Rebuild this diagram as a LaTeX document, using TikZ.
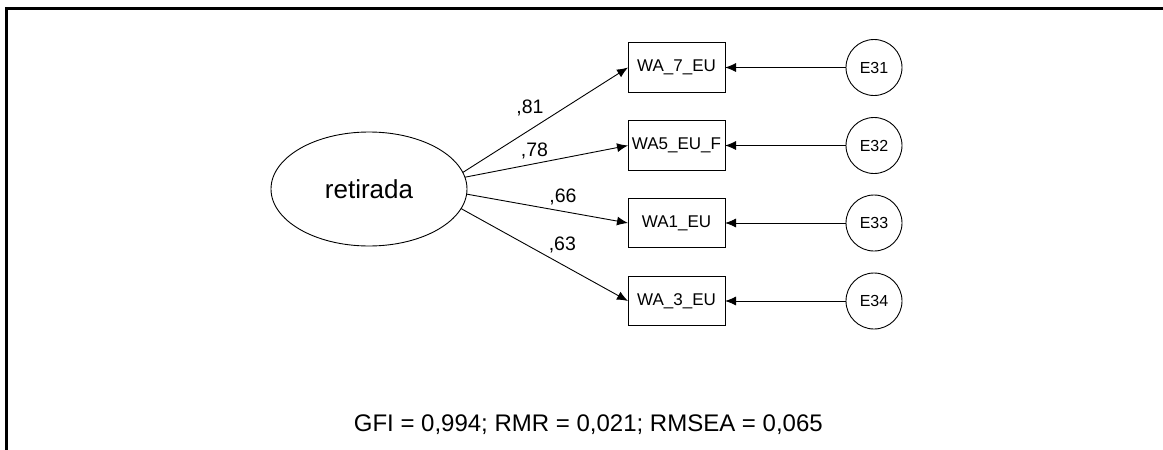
\documentclass[tikz,border=0pt]{standalone}
\usepackage{fontspec}
\setmainfont{Liberation Sans}
\usetikzlibrary{shapes.geometric,arrows.meta}
\begin{document}
\begin{tikzpicture}[x=1pt,y=-1pt,
  obs/.style={draw, line width=0.9pt, minimum width=97pt, minimum height=49.5pt, inner sep=0pt, outer sep=0pt, font=\fontsize{17}{19}\selectfont},
  err/.style={draw, circle, line width=0.9pt, minimum size=56pt, inner sep=0pt, outer sep=0pt, font=\fontsize{16}{18}\selectfont},
  lat/.style={draw, ellipse, line width=0.9pt, minimum width=196pt, minimum height=114pt, inner sep=0pt, outer sep=0pt, font=\fontsize{26}{30}\selectfont},
  loadarrow/.style={line width=0.9pt, -{Latex[length=11pt,width=9pt]}},
  coef/.style={anchor=base, inner sep=0pt, font=\fontsize{19.5}{21}\selectfont},
  frameline/.style={line width=2.5pt}
]
\useasboundingbox (0,0) rectangle (1163,450);
% frame (top and left only)
\coordinate (fTR) at (1170,8.5);
\coordinate (fTL) at (6.5,8.5);
\coordinate (fBL) at (6.5,460);
\draw[frameline] (fTR) -- (fTL) -- (fBL);

% latent
\node[lat] (ret) at (369,189) {retirada};

% observed
\node[obs] (o1) at (676.5,67.5) {WA\_7\_EU};
\node[obs] (o2) at (676.5,145.5) {WA5\_EU\_F};
\node[obs] (o3) at (676.5,223) {WA1\_EU};
\node[obs] (o4) at (676.5,301) {WA\_3\_EU};

% errors
\node[err] (e1) at (874,67.5) {E31};
\node[err] (e2) at (874,145.5) {E32};
\node[err] (e3) at (874,223) {E33};
\node[err] (e4) at (874,301) {E34};

% loadings
\draw[loadarrow] (ret.10) -- (o1.west);
\draw[loadarrow] (ret.7) -- (o2.west);
\draw[loadarrow] (ret.-3.5) -- (o3.west);
\draw[loadarrow] (ret.-12.8) -- (o4.west);

% error paths
\draw[loadarrow] (e1) -- (o1);
\draw[loadarrow] (e2) -- (o2);
\draw[loadarrow] (e3) -- (o3);
\draw[loadarrow] (e4) -- (o4);

% coefficients
\node[coef] (c1) at (530,113) {,81};
\node[coef] (c2) at (534.5,156) {,78};
\node[coef] (c3) at (563,202.7) {,66};
\node[coef] (c4) at (562.3,250.7) {,63};

% fit indices
\node[anchor=base, inner sep=0pt, font=\fontsize{24}{27}\selectfont] (fit) at (588.3,431.7) {GFI = 0,994; RMR = 0,021; RMSEA = 0,065};
\end{tikzpicture}
\end{document}
